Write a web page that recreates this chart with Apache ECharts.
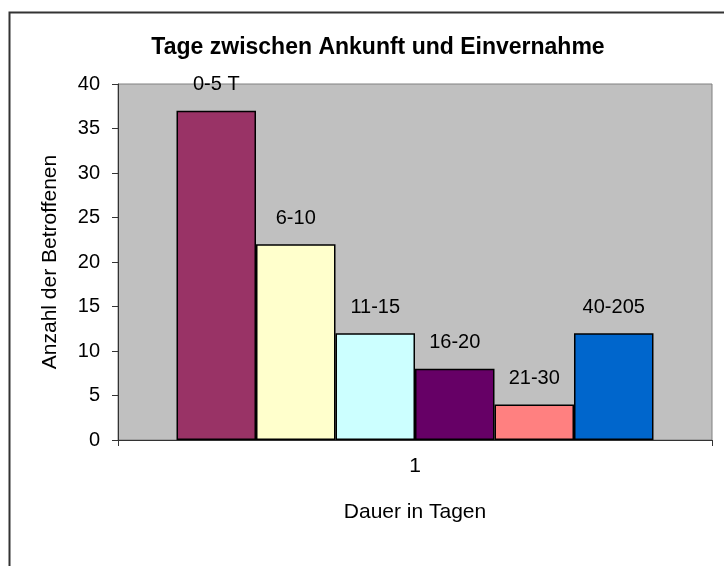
<!DOCTYPE html>
<html><head><meta charset="utf-8">
<script src="https://cdn.jsdelivr.net/npm/echarts@6/dist/echarts.min.js"></script>
<style>html,body{margin:0;padding:0;background:#fff}#c{width:724px;height:566px}</style>
</head><body><div id="c"></div>
<script>
const categories = ['1'];
const seriesNames = ['0-5 T', '6-10', '11-15', '16-20', '21-30', '40-205'];
const seriesValues = [37, 22, 12, 8, 4, 12];
const seriesColors = ['#993366', '#FFFFCC', '#CCFFFF', '#660066', '#FF8080', '#0066CC'];
const yTicks = { min: 0, max: 40, interval: 5 };

const FONT = '"Liberation Sans", Arial, sans-serif';
const chart = echarts.init(document.getElementById('c'));
chart.setOption({
  animation: false,
  textStyle: { fontFamily: FONT },
  title: {
    text: 'Tage zwischen Ankunft und Einvernahme',
    left: 373, top: 31, textAlign: 'center',
    textStyle: { fontFamily: FONT, fontWeight: 'bold', fontSize: 23, color: '#000' }
  },
  graphic: [{
    type: 'rect', left: 7, top: 10, z: 100,
    shape: { width: 800, height: 600 },
    style: { fill: 'none', stroke: '#333', lineWidth: 2 }
  }],
  grid: {
    left: 118, top: 84, right: 12, bottom: 126,
    show: true, backgroundColor: '#C0C0C0', borderColor: '#808080', borderWidth: 1
  },
  xAxis: {
    type: 'category', data: categories,
    name: 'Dauer in Tagen', nameLocation: 'middle', nameGap: 62,
    nameTextStyle: { fontFamily: FONT, fontSize: 21, color: '#000' },
    axisLine: { lineStyle: { color: '#333', width: 1 } },
    axisTick: { show: true, length: 6, lineStyle: { color: '#333' } },
    axisLabel: { fontFamily: FONT, fontSize: 21, color: '#000', margin: 16 }
  },
  yAxis: {
    type: 'value', min: yTicks.min, max: yTicks.max, interval: yTicks.interval,
    name: 'Anzahl der Betroffenen', nameLocation: 'middle', nameGap: 57,
    nameTextStyle: { fontFamily: FONT, fontSize: 21, color: '#000' },
    axisLine: { show: true, lineStyle: { color: '#333', width: 1 } },
    axisTick: { show: true, length: 6, lineStyle: { color: '#333' } },
    axisLabel: { fontFamily: FONT, fontSize: 20, color: '#000', margin: 18 },
    splitLine: { show: false }
  },
  series: seriesNames.map((n, i) => ({
    type: 'bar', name: n, data: [seriesValues[i]],
    barGap: '0%', barCategoryGap: '19.7%',
    itemStyle: { color: seriesColors[i], borderColor: '#000', borderWidth: 1.5 },
    label: { show: true, position: 'top', distance: 16, formatter: '{a}',
      fontFamily: FONT, fontSize: 20, color: '#000' }
  }))
});
</script></body></html>
